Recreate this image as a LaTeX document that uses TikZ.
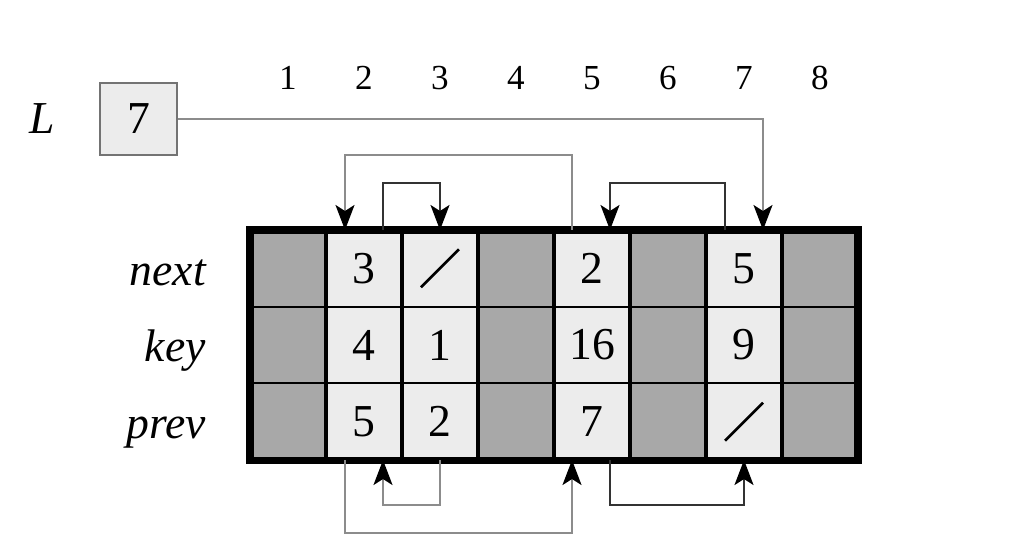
\documentclass[tikz,border=0pt]{standalone}
\usepackage{fontspec}
\setmainfont{Liberation Serif}
\usetikzlibrary{arrows.meta,positioning}
\definecolor{cellfree}{HTML}{A8A8A8}
\definecolor{celluse}{HTML}{ECECEC}

\begin{document}
\begin{tikzpicture}[x=0.02cm, y=-0.02cm, >={Stealth[length=0.5cm, width=0.38cm, inset=0.12cm, color=black]}]
    \useasboundingbox (0,0) rectangle (1024,545);
    \tikzset{
      cell/.style={minimum width=1.52cm, minimum height=1.533cm, inner sep=0pt, outer sep=0pt,
                   font=\fontsize{26}{28}\selectfont},
      free/.style={cell, fill=cellfree},
      used/.style={cell, fill=celluse},
      idx/.style={font=\fontsize{20}{22}\selectfont},
      field/.style={anchor=base east, font=\fontsize{26}{28}\selectfont\itshape},
      lbox/.style={minimum width=1.54cm, minimum height=1.44cm, inner sep=0pt, fill=celluse,
                   draw=black!55, line width=1.2pt, font=\fontsize{26}{28}\selectfont},
      ptr/.style={draw=black!80, line width=1.1pt, ->},
      farptr/.style={ptr, draw=black!45},
      nil/.style={line width=1.5pt},
    }

    % Array cells: column, free/used, next, key, prev
    \foreach \i/\s/\n/\k/\p in {1/free/{}/{}/{}, 2/used/3/4/5, 3/used/{}/1/2, 4/free/{}/{}/{},
                                5/used/2/16/7, 6/free/{}/{}/{}, 7/used/5/9/{}, 8/free/{}/{}/{}} {
      \node[\s] (c-\i-1) at ({288+76*(\i-1)}, 268.3) {\n};
      \node[\s] (c-\i-2) at ({288+76*(\i-1)}, 345) {\k};
      \node[\s] (c-\i-3) at ({288+76*(\i-1)}, 421.7) {\p};
      \node[idx] (i-\i) at ({288+76*(\i-1)}, 78) {\i};
    }

    % Grid lines
    \foreach \r in {1,2}
      \draw[line width=1pt] (c-1-\r.south west) -- (c-8-\r.south east);
    \foreach \i in {1,...,7}
      \draw[line width=2.8pt] (c-\i-1.north east) -- (c-\i-3.south east);
    \draw[line width=4pt] (c-1-1.north west) rectangle (c-8-3.south east);

    % Nil pointers
    \draw[nil] ([shift={(-19,19)}]c-3-1.center) -- ([shift={(19,-19)}]c-3-1.center);
    \draw[nil] ([shift={(-19,19)}]c-7-3.center) -- ([shift={(19,-19)}]c-7-3.center);

    % Field names
    \node[field] (f-next) at (212,285) {next};
    \node[field] (f-key) at (212,361) {key};
    \node[field] (f-prev) at (212,438) {prev};

    % List head
    \node[lbox] (lst) at (138.5,119) {7};
    \node[font=\fontsize{26}{28}\selectfont\itshape, left=0.76cm of lst] (lname) {L};

    % next pointers
    \draw[farptr] (lst.east) -| ([xshift=0.38cm]c-7-1.north);
    \draw[farptr] ([xshift=-0.4cm]c-5-1.north) -- ++(0,-75) -| ([xshift=-0.38cm]c-2-1.north);
    \draw[ptr] ([xshift=0.38cm]c-2-1.north) -- ++(0,-47) -| (c-3-1.north);
    \draw[ptr] ([xshift=-0.38cm]c-7-1.north) -- ++(0,-47) -| ([xshift=0.36cm]c-5-1.north);

    % prev pointers
    \draw[farptr] (c-3-3.south) -- ++(0,45) -| ([xshift=0.38cm]c-2-3.south);
    \draw[farptr] ([xshift=-0.38cm]c-2-3.south) -- ++(0,73) -| ([xshift=-0.4cm]c-5-3.south);
    \draw[ptr] ([xshift=0.36cm]c-5-3.south) -- ++(0,45) -| (c-7-3.south);
\end{tikzpicture}
\end{document}
